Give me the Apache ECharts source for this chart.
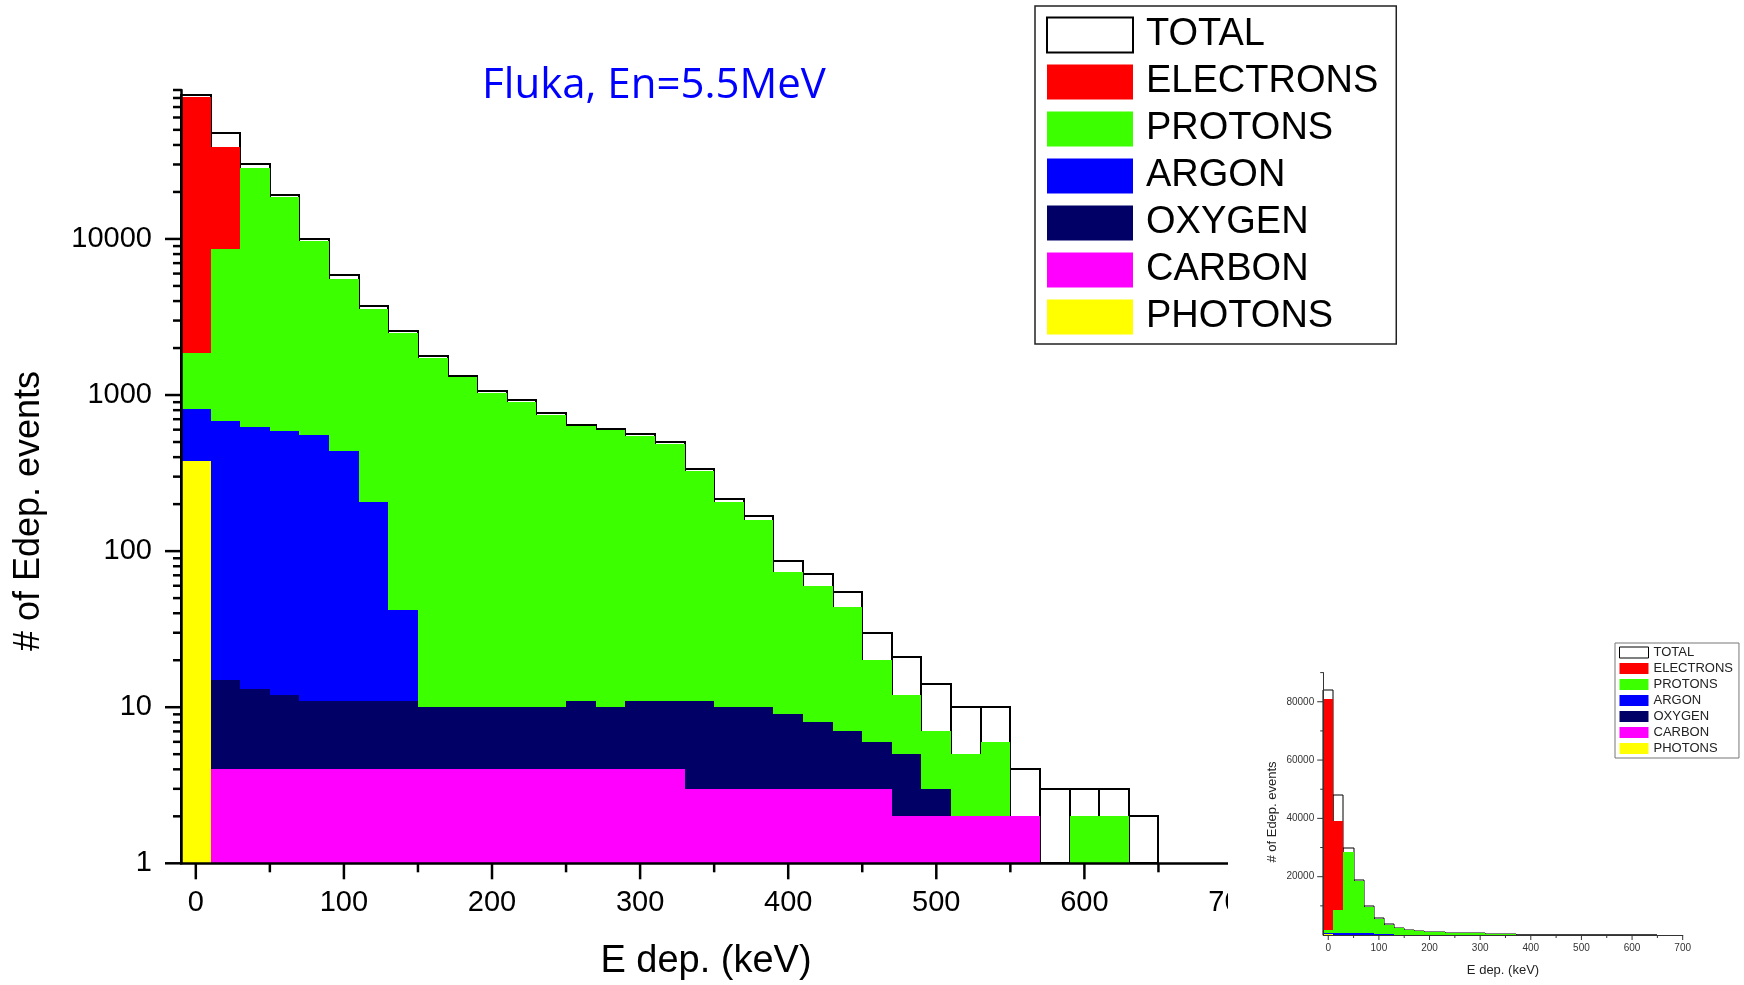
<!DOCTYPE html>
<html><head><meta charset="utf-8">
<script src="https://cdn.jsdelivr.net/npm/echarts@6/dist/echarts.min.js"></script>
<style>html,body{margin:0;padding:0;background:#fff}#c{width:1744px;height:985px}</style>
</head><body><div id="c"></div>
<script>
// ---- data (E dep. bins of 20 keV, centres) ----
const binCenters = [0,20,40,60,80,100,120,140,160,180,200,220,240,260,280,300,320,340,360,380,400,420,440,460,480,500,520,540,560,580,600,620,640];
const binHalfWidth = 10;
const total     = [84000,48000,30000,19000,10000,5860,3720,2560,1770,1325,1058,926,768,646,609,561,498,334,216,168,86,71,55,30,21,14,10,10,4,3,3,3,2];
const electrons = [81000,39000,0,0,0,0,0,0,0,0,0,0,0,0,0,0,0,0,0,0,0,0,0,0,0,0,0,0,0,0,0,0,0];
const protons   = [1850,8650,28300,18600,9700,5540,3560,2500,1730,1300,1030,900,750,630,595,545,485,325,205,159,73,60,44,20,12,7,5,6,2,0,2,2,0];
const argon     = [810,680,620,587,555,436,207,42,0,0,0,0,0,0,0,0,0,0,0,0,0,0,0,0,0,0,0,0,0,0,0,0,0];
const oxygen    = [0,15,13,12,11,11,11,11,10,10,10,10,10,11,10,11,11,11,10,10,9,8,7,6,5,3,0,0,0,0,0,0,0];
const carbon    = [0,4,4,4,4,4,4,4,4,4,4,4,4,4,4,4,4,3,3,3,3,3,3,3,2,2,2,2,2,0,0,0,0];
const photons   = [380,0,0,0,0,0,0,0,0,0,0,0,0,0,0,0,0,0,0,0,0,0,0,0,0,0,0,0,0,0,0,0,0];

const seriesNames  = ['TOTAL','ELECTRONS','PROTONS','ARGON','OXYGEN','CARBON','PHOTONS'];
const seriesValues = [total, electrons, protons, argon, oxygen, carbon, photons];
const seriesColors = ['#ffffff','#ff0000','#3cff00','#0000ff','#000066','#ff00ff','#ffff00'];

const titleText = 'Fluka, En=5.5MeV';
const xTitle = 'E dep. (keV)';
const yTitle = '# of Edep. events';

const xMajorTicks = [0,100,200,300,400,500,600,700];
const xMinorTicks = [50,150,250,350,450,550,650];
const yMajorTicksLog = [1,10,100,1000,10000];
const yMinorTicksLog = [2,3,4,5,6,7,8,9,20,30,40,50,60,70,80,90,200,300,400,500,600,700,800,900,
                        2000,3000,4000,5000,6000,7000,8000,9000,20000,30000,40000,50000,60000,70000,80000,90000];
const yMajorTicksLin = [20000,40000,60000,80000];
const yMinorTicksLin = [10000,30000,50000,70000,90000];

const X_MIN = -10, X_MAX = 700;
const FONT = "'Liberation Sans', Arial, sans-serif";

// ---- helpers ----
function histData(vals){
  return binCenters.map((c,i)=>[c-binHalfWidth, c+binHalfWidth, vals[i]]).filter(d=>d[2]>0);
}
function histRender(baseline, isTotal, color, lw){
  return function(params, api){
    const a = api.coord([api.value(0), api.value(2)]);
    const b = api.coord([api.value(1), baseline]);
    const L = Math.round(a[0]), R = Math.round(b[0]), T = Math.round(a[1]), B = Math.round(b[1]);
    return {type:'rect', shape:{x:L, y:T, width:R-L, height:B-T},
      style: isTotal ? {fill:'rgba(0,0,0,0)', stroke:'#000', lineWidth:lw} : {fill:color}};
  };
}
function tickSeries(xi, yi, vals, dir, len, lw, color, z, xAt, yAt){
  return {
    type:'custom', xAxisIndex:xi, yAxisIndex:yi, z:z, clip:false, silent:true,
    data: vals.map(v => dir==='y' ? [xAt, v] : [v, yAt]),
    encode:{x:0, y:1},
    renderItem:function(params, api){
      const p = api.coord([api.value(0), api.value(1)]);
      const shape = dir==='y' ? {x1:p[0]-len, y1:p[1], x2:p[0], y2:p[1]}
                              : {x1:p[0], y1:p[1], x2:p[0], y2:p[1]+len};
      return {type:'line', shape:shape, style:{stroke:color, lineWidth:lw}};
    }
  };
}

const series = [];
// main histograms (log)
seriesNames.forEach((n,i)=>{
  series.push({type:'custom', name:n, xAxisIndex:0, yAxisIndex:0, z:2, clip:false,
    data:histData(seriesValues[i]), encode:{x:[0,1], y:2},
    itemStyle:{color: i===0 ? '#000' : seriesColors[i]},
    renderItem:histRender(1, i===0, seriesColors[i], 2)});
});
// inset histograms (linear)
seriesNames.forEach((n,i)=>{
  series.push({type:'custom', name:n, xAxisIndex:1, yAxisIndex:1, z:11, clip:false,
    data:histData(seriesValues[i]), encode:{x:[0,1], y:2},
    itemStyle:{color: i===0 ? '#000' : seriesColors[i]},
    renderItem:histRender(0, i===0, seriesColors[i], 1)});
});
// main ticks
series.push(tickSeries(0,0,yMajorTicksLog,'y',16,2.5,'#000',3,X_MIN,null));
series.push(tickSeries(0,0,yMinorTicksLog,'y',8,2.5,'#000',3,X_MIN,null));
series.push(tickSeries(0,0,xMajorTicks,'x',16,2.5,'#000',3,null,1));
series.push(tickSeries(0,0,xMinorTicks,'x',9,2.5,'#000',3,null,1));
// inset ticks
series.push(tickSeries(1,1,yMajorTicksLin,'y',6,1,'#333',12,X_MIN,null));
series.push(tickSeries(1,1,yMinorTicksLin,'y',3,1,'#333',12,X_MIN,null));
series.push(tickSeries(1,1,xMajorTicks,'x',5,1,'#333',12,null,0));
series.push(tickSeries(1,1,xMinorTicks,'x',3,1,'#333',12,null,0));

function legendData(bw){
  return seriesNames.map((n,i)=>({name:n, icon:'rect',
    itemStyle: i===0 ? {color:'#fff', borderColor:'#000', borderWidth:bw} : {color:seriesColors[i], borderWidth:0}}));
}

const option = {
  animation:false,
  backgroundColor:'#fff',
  grid:[
    {left:181, top:90, width:1051.5, height:773.3, containLabel:false, outerBoundsMode:'none'},
    {left:1323.2, top:672.6, width:359.5, height:262.4, containLabel:false, outerBoundsMode:'none'}
  ],
  xAxis:[
    {type:'value', gridIndex:0, min:X_MIN, max:X_MAX, z:3,
     axisLine:{show:true, onZero:false, lineStyle:{color:'#000', width:2.5}},
     axisTick:{show:false}, splitLine:{show:false},
     axisLabel:{fontSize:29, fontFamily:FONT, color:'#000', margin:25,
       formatter:v=> (v>=0 && v%100===0) ? String(v) : ''}},
    {type:'value', gridIndex:1, min:X_MIN, max:X_MAX, z:12,
     axisLine:{show:true, onZero:false, lineStyle:{color:'#333', width:1}},
     axisTick:{show:false}, splitLine:{show:false},
     axisLabel:{fontSize:10, fontFamily:FONT, color:'#333', margin:8,
       formatter:v=> (v>=0 && v%100===0) ? String(v) : ''}}
  ],
  yAxis:[
    {type:'log', logBase:10, gridIndex:0, min:1, max:90000, z:3,
     axisLine:{show:true, onZero:false, lineStyle:{color:'#000', width:2.5}},
     axisTick:{show:false}, splitLine:{show:false}, minorTick:{show:false},
     axisLabel:{fontSize:29, fontFamily:FONT, color:'#000', margin:29,
       formatter:v=>{const l=Math.log10(v); return Math.abs(l-Math.round(l))<1e-6 ? String(Math.round(v)) : '';}}},
    {type:'value', gridIndex:1, min:0, max:90000, z:12,
     axisLine:{show:true, onZero:false, lineStyle:{color:'#333', width:1}},
     axisTick:{show:false}, splitLine:{show:false},
     axisLabel:{fontSize:10, fontFamily:FONT, color:'#333', margin:9,
       formatter:v=> (v>0 && v%20000===0 && v<90000) ? String(v) : ''}}
  ],
  legend:[
    {orient:'vertical', left:1035, top:6, z:4, selectedMode:false,
     padding:[10,18,8,11], itemWidth:86, itemHeight:35, itemGap:9,
     borderColor:'#222', borderWidth:1.5, backgroundColor:'#fff',
     textStyle:{fontSize:38, fontFamily:FONT, color:'#000', padding:[0,0,0,8]},
     data:legendData(2)},
    {orient:'vertical', left:1615, top:643, z:13, selectedMode:false,
     padding:[3,6,3,4], itemWidth:29, itemHeight:11, itemGap:3,
     borderColor:'#777', borderWidth:1, backgroundColor:'#fff',
     textStyle:{fontSize:13, fontFamily:FONT, color:'#222'},
     data:legendData(1)}
  ],
  graphic:[
    {type:'rect', z:10, silent:true, shape:{x:1228, y:590, width:516, height:395}, style:{fill:'#fff'}},
    {type:'text', z:5, x:654, y:86, style:{text:titleText, fill:'#0000ff', font:"42px 'Open Sans', sans-serif", align:'center', verticalAlign:'middle'}},
    {type:'text', z:5, x:706, y:962, style:{text:xTitle, fill:'#000', font:"38px 'Liberation Sans', Arial, sans-serif", align:'center', verticalAlign:'middle'}},
    {type:'text', z:5, x:29, y:511, rotation:Math.PI/2, style:{text:yTitle, fill:'#000', font:"36px 'Liberation Sans', Arial, sans-serif", align:'center', verticalAlign:'middle'}},
    {type:'text', z:13, x:1503, y:970, style:{text:xTitle, fill:'#222', font:"13px 'Liberation Sans', Arial, sans-serif", align:'center', verticalAlign:'middle'}},
    {type:'text', z:13, x:1272, y:812, rotation:Math.PI/2, style:{text:yTitle, fill:'#222', font:"13px 'Liberation Sans', Arial, sans-serif", align:'center', verticalAlign:'middle'}}
  ],
  series:series
};
const chart = echarts.init(document.getElementById('c'), null, {renderer:'canvas'});
chart.setOption(option);
</script></body></html>
